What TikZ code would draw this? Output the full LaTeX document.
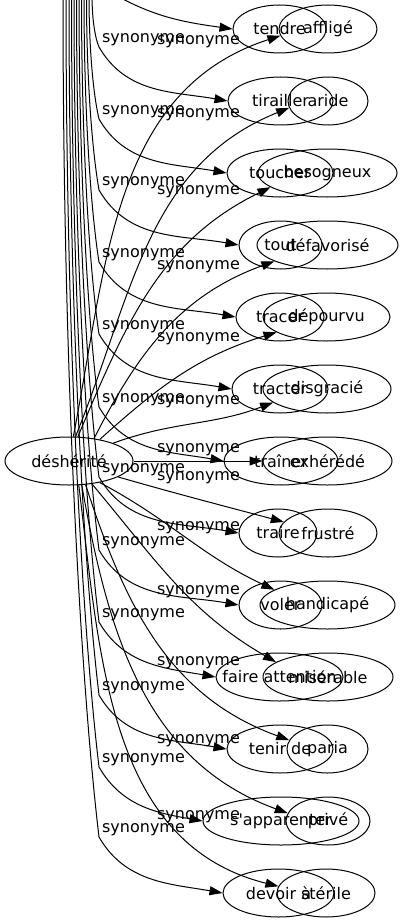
\documentclass[tikz,border=0pt]{standalone}
\usepackage{fontspec}
\setmainfont{DejaVu Sans}
\usetikzlibrary{shapes.geometric,arrows.meta}

\begin{document}
\begin{tikzpicture}[x=1pt, y=-1pt,
		node_style/.style={ellipse,draw=black,line width=1pt,minimum height=48pt,inner sep=0pt,font=\fontsize{16}{19}\selectfont},
		edge_style/.style={draw=black,line width=1pt,-{Triangle[length=13pt,width=9pt]}},
		label_style/.style={inner sep=0pt,font=\fontsize{16}{19}\selectfont}]

		\useasboundingbox (0,0) rectangle (403,923);
		\clip (0,0) rectangle (403,923);

		% left word
		\node[node_style, minimum width=128pt] (d) at (69,461) {déshérité};

		% right column
		\node[node_style, minimum width=98pt] (a1) at (328,29) {affligé};
		\node[node_style, minimum width=80pt] (a2) at (328,101) {aride};
		\node[node_style, minimum width=139pt] (a3) at (327.5,173) {besogneux};
		\node[node_style, minimum width=141pt] (a4) at (327.5,245) {défavorisé};
		\node[node_style, minimum width=127pt] (a5) at (326.5,317) {dépourvu};
		\node[node_style, minimum width=128pt] (a6) at (327,389) {disgracié};
		\node[node_style, minimum width=129pt] (a7) at (327.5,461) {exhérédé};
		\node[node_style, minimum width=98pt] (a8) at (328,533) {frustré};
		\node[node_style, minimum width=135pt] (a9) at (327.5,605) {handicapé};
		\node[node_style, minimum width=130pt] (a10) at (328,677) {misérable};
		\node[node_style, minimum width=81pt] (a11) at (327.5,749) {paria};
		\node[node_style, minimum width=84pt] (a12) at (328,821) {privé};
		\node[node_style, minimum width=98pt] (a13) at (326,893) {stérile};

		% second column
		\node[node_style, minimum width=93pt] (b1) at (279.5,29) {tendre};
		\node[node_style, minimum width=105pt] (b2) at (280.5,101) {tirailler};
		\node[node_style, minimum width=106pt] (b3) at (280,173) {toucher};
		\node[node_style, minimum width=83pt] (b4) at (280.5,245) {tout};
		\node[node_style, minimum width=88pt] (b5) at (280,317) {tracer};
		\node[node_style, minimum width=96pt] (b6) at (280,389) {tracter};
		\node[node_style, minimum width=114pt] (b7) at (281,461) {traîner};
		\node[node_style, minimum width=78pt] (b8) at (278,533) {traire};
		\node[node_style, minimum width=83pt] (b9) at (280.5,605) {voler};
		\node[node_style, minimum width=127pt, inner xsep=-20pt] (b10) at (279.5,677) {faire attention};
		\node[node_style, minimum width=106pt] (b11) at (280,749) {tenir de};
		\node[node_style, minimum width=156pt] (b12) at (281,821) {s\textquotesingle apparenter};
		\node[node_style, minimum width=111pt] (b13) at (278.5,893) {devoir à};

		% free ends above the picture
		\coordinate (t1) at (110,-8);
		\coordinate (t2) at (92,-5);
		\coordinate (t3) at (89,-5);
		\coordinate (t4) at (86.5,-5);
		\coordinate (t5) at (84,-5);
		\coordinate (t6) at (81.5,-5);
		\coordinate (t7) at (79,-5);
		\coordinate (t8) at (76.5,-5);
		\coordinate (t9) at (74,-5);
		\coordinate (t10) at (71.5,-5);
		\coordinate (t11) at (69,-5);
		\coordinate (t12) at (66,-5);
		\coordinate (t13) at (63,-5);

		% edge labels
		\node[label_style] (s1) at (143.5,40) {synonyme};
		\node[label_style] (s2) at (143.5,112) {synonyme};
		\node[label_style] (s3) at (143.5,183) {synonyme};
		\node[label_style] (s4) at (143.5,255) {synonyme};
		\node[label_style] (s5) at (143.5,327) {synonyme};
		\node[label_style] (s6) at (143.5,400) {synonyme};
		\node[label_style] (s7) at (143.5,470) {synonyme};
		\node[label_style] (s8) at (143.5,543) {synonyme};
		\node[label_style] (s9) at (143.5,615) {synonyme};
		\node[label_style] (s10) at (143.5,688) {synonyme};
		\node[label_style] (s11) at (143.5,760) {synonyme};
		\node[label_style] (s12) at (143.5,830) {synonyme};
		\node[label_style] (r1) at (198.5,42) {synonyme};
		\node[label_style] (r2) at (198.5,115) {synonyme};
		\node[label_style] (r3) at (198.5,192) {synonyme};
		\node[label_style] (r4) at (198.5,267) {synonyme};
		\node[label_style] (r5) at (198.5,339) {synonyme};
		\node[label_style] (r6) at (198.5,402) {synonyme};
		\node[label_style] (r7) at (198.5,450) {synonyme};
		\node[label_style] (r8) at (198.5,478) {synonyme};
		\node[label_style] (r9) at (198.5,528) {synonyme};
		\node[label_style] (r10) at (198.5,592) {synonyme};
		\node[label_style] (r11) at (198.5,663) {synonyme};
		\node[label_style] (r12) at (198.5,741) {synonyme};
		\node[label_style] (r13) at (198.5,817) {synonyme};

		% edges from déshérité
		\draw[edge_style] (d.80) to[out=79,in=198] (a1.188);
		\draw[edge_style] (d.75) to[out=68,in=202] (a2.190);
		\draw[edge_style] (d.70) to[out=67,in=206] (a3.194);
		\draw[edge_style] (d.42) to[out=63,in=200] (a4.197);
		\draw[edge_style] (d.35) to[out=42,in=197] (a5.197);
		\draw[edge_style] (d.22) to[out=20,in=201] (a6.194);
		\draw[edge_style] (d) -- (a7);
		\draw[edge_style] (d.-18) to[out=-16,in=165] (a8.166);
		\draw[edge_style] (d.-35) to[out=-28,in=155] (a9.164);
		\draw[edge_style] (d.-45) to[out=-50,in=150] (a10.164);
		\draw[edge_style] (d.-55) to[out=-72,in=160] (a11.167);
		\draw[edge_style] (d.-62) to[out=-80,in=160] (a12.169);
		\draw[edge_style] (d.-68) to[out=-83,in=166] (a13.172);

		% edges coming from above
		\draw[edge_style] (t1) to[out=-30,in=172] (b1.west);
		\draw[edge_style] (t2) .. controls (92,21) and (95.5,39) .. (99,47) to[out=-60,in=170] (b2.west);
		\draw[edge_style] (t3) .. controls (89,54) and (94,98) .. (99,119) to[out=-60,in=170] (b3.west);
		\draw[edge_style] (t4) .. controls (86.5,86) and (93,156) .. (99,190) to[out=-60,in=170] (b4.west);
		\draw[edge_style] (t5) .. controls (84,118) and (91.5,215) .. (99,262) to[out=-60,in=170] (b5.west);
		\draw[edge_style] (t6) .. controls (81.5,150) and (90,274) .. (99,334) to[out=-60,in=170] (b6.west);
		\draw[edge_style] (t7) .. controls (79,183) and (89,334) .. (99,407) to[out=-60,in=170] (b7.west);
		\draw[edge_style] (t8) .. controls (76.5,215) and (88,391) .. (99,477) to[out=-60,in=170] (b8.west);
		\draw[edge_style] (t9) .. controls (74,248) and (86.5,451) .. (99,550) to[out=-60,in=170] (b9.west);
		\draw[edge_style] (t10) .. controls (71.5,280) and (85,510) .. (99,622) to[out=-60,in=170] (b10.west);
		\draw[edge_style] (t11) .. controls (69,313) and (84,570) .. (99,695) to[out=-60,in=170] (b11.west);
		\draw[edge_style] (t12) .. controls (66,345) and (82.5,629) .. (99,767) to[out=-60,in=170] (b12.west);
		\draw[edge_style] (t13) .. controls (63,377) and (81,686) .. (99,837) to[out=-60,in=170] (b13.west);

\end{tikzpicture}
\end{document}
